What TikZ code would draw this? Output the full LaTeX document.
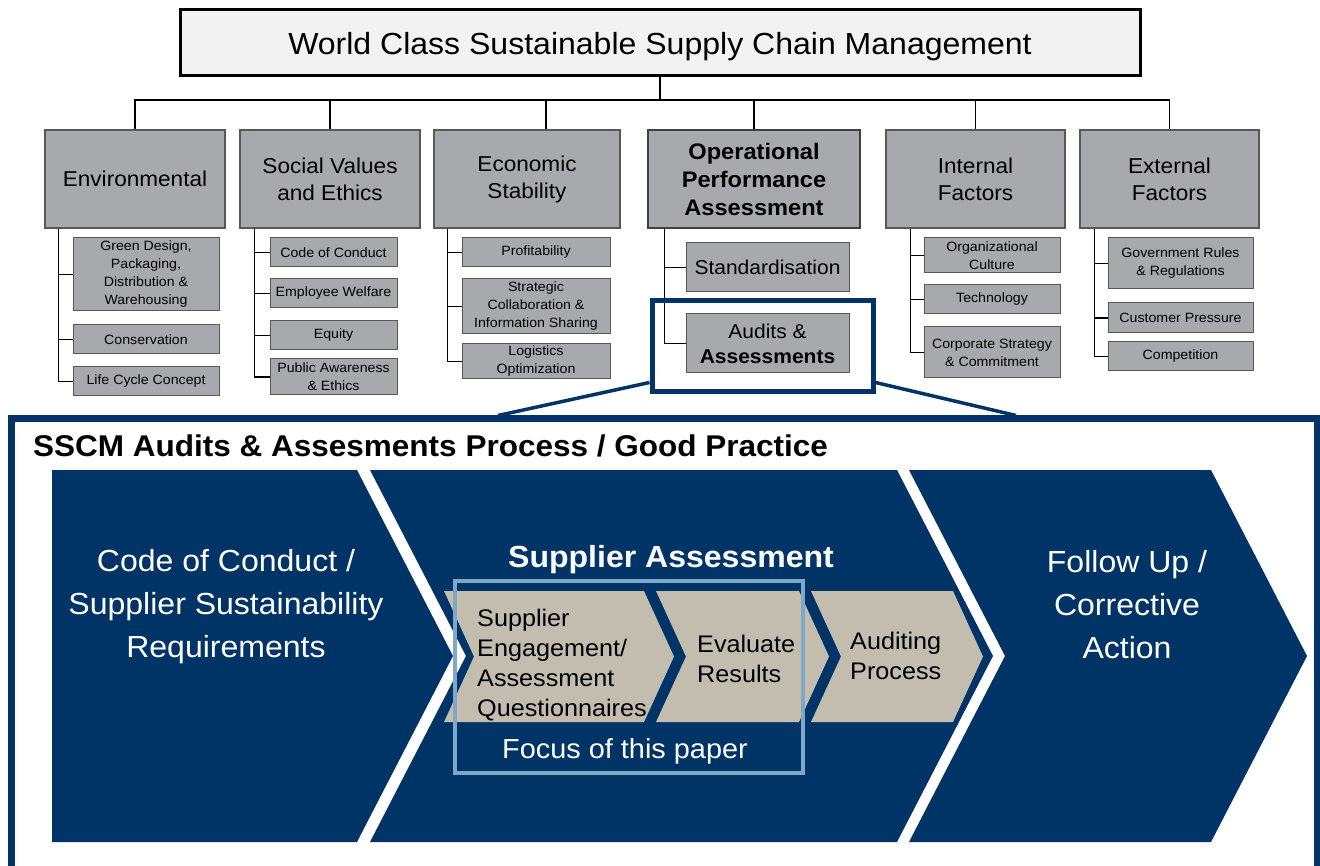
\documentclass[tikz,border=0pt]{standalone}
\usepackage{fontspec}
\setmainfont[FakeStretch=1.05]{Liberation Sans}
\usepackage{xcolor}
\usepackage{tikz}
\usetikzlibrary{positioning, calc}
\definecolor{navy}{RGB}{0,51,102}
\definecolor{boxgray}{RGB}{167,169,172}
\definecolor{edgegray}{RGB}{88,88,88}
\definecolor{topgray}{RGB}{242,242,242}
\definecolor{beige}{RGB}{195,189,175}
\definecolor{focusblue}{RGB}{125,168,200}
\newcommand{\fs}[2]{\fontsize{#1}{#2}\selectfont}

\begin{document}
\begin{tikzpicture}[x=1pt, y=-1pt]
  \tikzstyle{topbox} = [rectangle, draw=black, line width=3pt, fill=topgray, minimum width=960, minimum height=66, inner sep=0, text height=24, text depth=0, font=\fs{30.5}{36}]
  \tikzstyle{cat} = [rectangle, draw=edgegray, line width=1.2pt, fill=boxgray, minimum height=98, inner sep=0, align=center, font=\fs{21.5}{27}]
  \tikzstyle{catbold} = [cat, draw=black!75, line width=2.5pt, font=\fs{22.5}{28}\bfseries]
  \tikzstyle{sub} = [rectangle, draw=edgegray, line width=1pt, fill=boxgray, inner sep=0, align=center, font=\fs{13.5}{18}]
  \tikzstyle{subbig} = [sub, font=\fs{20}{25}]
  \tikzstyle{tree} = [line width=1.1pt, black]
  \tikzstyle{bigtxt} = [align=center, text=white, font=\fs{30.5}{43}]
  \tikzstyle{steptxt} = [align=left, anchor=west, inner sep=0, font=\fs{24}{30}]
  \useasboundingbox (0,0) rectangle (1320,866);
  \clip (0,0) rectangle (1320,866);

  % Top: main heading and six pillars
  \node [topbox] (title) at (660,43) {World Class Sustainable Supply Chain Management};
  \node [cat, minimum width=180] (env) at (135,179) {Environmental};
  \node [cat, minimum width=180] (soc) at (330,179) {Social Values\\and Ethics};
  \node [cat, minimum width=186] (eco) at (527,179) {Economic\\Stability};
  \node [catbold, minimum width=212] (ops) at (754,179) {Operational\\Performance\\Assessment};
  \node [cat, minimum width=179] (int) at (975.5,179) {Internal\\Factors};
  \node [cat, minimum width=179] (ext) at (1169.5,179) {External\\Factors};

  % Bus from heading to pillars
  \coordinate (bus) at (660,100);
  \draw [tree] (title.south) -- (title.south |- bus);
  \draw [tree] (env.north) -- (env.north |- bus) -- (ext.north |- bus) -- (ext.north);
  \draw [tree] ([xshift=19pt]eco.north) -- ([xshift=19pt]eco.north |- bus);
  \foreach \n in {soc, ops, int}
    \draw [tree] (\n.north) -- (\n.north |- bus);

  % Environmental
  \node [sub, minimum width=146, minimum height=73] (gd) at (146,274.5) {Green Design,\\Packaging,\\Distribution \&\\Warehousing};
  \node [sub, minimum width=146, minimum height=29] (cons) at (146,339.5) {Conservation};
  \node [sub, minimum width=146, minimum height=29] (lcc) at (146,381.5) {Life Cycle Concept};

  % Social values
  \node [sub, minimum width=127, minimum height=29] (coc) at (333.5,252.5) {Code of Conduct};
  \node [sub, minimum width=127, minimum height=29] (emp) at (333.5,293.5) {Employee Welfare};
  \node [sub, minimum width=127, minimum height=29] (equ) at (333.5,335.5) {Equity};
  \node [sub, minimum width=127, minimum height=36] (pub) at (333.5,377) {Public Awareness\\\& Ethics};

  % Economic
  \node [sub, minimum width=148, minimum height=29] (prof) at (536,252.5) {Profitability};
  \node [sub, minimum width=148, minimum height=55] (strat) at (536,306.5) {Strategic\\Collaboration \&\\Information Sharing};
  \node [sub, minimum width=148, minimum height=35] (logi) at (536,361.5) {Logistics\\Optimization};

  % Operational
  \node [subbig, minimum width=163, minimum height=49] (std) at (767.5,267.5) {Standardisation};
  \node [subbig, minimum width=163, minimum height=59] (aud) at (767.5,343.5) {Audits \&\\\textbf{Assessments}};

  % Internal
  \node [sub, minimum width=136, minimum height=35] (org) at (992,255.5) {Organizational\\Culture};
  \node [sub, minimum width=136, minimum height=29] (tech) at (992,299.5) {Technology};
  \node [sub, minimum width=136, minimum height=51] (corp) at (992,352.5) {Corporate Strategy\\\& Commitment};

  % External
  \node [sub, minimum width=145, minimum height=51] (gov) at (1180.5,263.5) {Government Rules\\\& Regulations};
  \node [sub, minimum width=145, minimum height=30] (cust) at (1180.5,318) {Customer Pressure};
  \node [sub, minimum width=145, minimum height=29] (comp) at (1180.5,356.5) {Competition};

  % Branches
  \draw [tree] ([xshift=14pt]env.south west) |- (gd.west);
  \draw [tree] ([xshift=14pt]env.south west) |- (cons.west);
  \draw [tree] ([xshift=14pt]env.south west) |- (lcc.west);
  \draw [tree] ([xshift=15pt]soc.south west) |- (coc.west);
  \draw [tree] ([xshift=15pt]soc.south west) |- (emp.west);
  \draw [tree] ([xshift=15pt]soc.south west) |- (equ.west);
  \draw [tree] ([xshift=15pt]soc.south west) |- (pub.west);
  \draw [tree] ([xshift=14pt]eco.south west) |- (prof.west);
  \draw [tree] ([xshift=14pt]eco.south west) |- (strat.west);
  \draw [tree] ([xshift=14pt]eco.south west) |- (logi.west);
  \draw [tree] ([xshift=18pt]ops.south west) |- (std.west);
  \draw [tree] ([xshift=18pt]ops.south west) |- (aud.west);
  \draw [tree] ([xshift=25pt]int.south west) |- (org.west);
  \draw [tree] ([xshift=25pt]int.south west) |- (tech.west);
  \draw [tree] ([xshift=25pt]int.south west) |- (corp.west);
  \draw [tree] ([xshift=15pt]ext.south west) |- (gov.west);
  \draw [tree] ([xshift=15pt]ext.south west) |- (cust.west);
  \draw [tree] ([xshift=15pt]ext.south west) |- (comp.west);

  % Zoom: highlight and frame
  \node [rectangle, draw=navy, line width=5pt, minimum width=221, minimum height=91, inner sep=0] (hl) at (762.5,346.5) {};
  \node [rectangle, draw=navy, line width=7pt, minimum width=1305.5, minimum height=451, inner sep=0] (frame) at (664.25,644.5) {};
  \draw [navy, line width=3.5pt] ([yshift=12pt]hl.south west) -- ([xshift=490pt]frame.north west);
  \draw [navy, line width=3.5pt] ([yshift=12pt]hl.south east) -- ([xshift=1008pt]frame.north west);
  \node [anchor=base west, inner sep=0, font=\fs{30}{35}\bfseries] (head) at (33,456) {SSCM Audits \& Assesments Process / Good Practice};

  % Process chevrons
  \fill [navy] (52,470) -- (357,470) -- (453,656) -- (357,842) -- (52,842) -- cycle;
  \fill [navy] (370,470) -- (897,470) -- (993,656) -- (897,842) -- (370,842) -- (466,656) -- cycle;
  \fill [navy] (909,470) -- (1211,470) -- (1307,656) -- (1211,842) -- (909,842) -- (1005,656) -- cycle;
  \fill [beige] (444,591) -- (644,591) -- (674,656.5) -- (644,722) -- (444,722) -- (474,656.5) -- cycle;
  \fill [beige] (656,591) -- (799,591) -- (829,656.5) -- (799,722) -- (656,722) -- (686,656.5) -- cycle;
  \fill [beige] (811,591) -- (953,591) -- (983,656.5) -- (953,722) -- (811,722) -- (841,656.5) -- cycle;

  \node [bigtxt] (req) at (226,607) {Code of Conduct /\\Supplier Sustainability\\Requirements};
  \node [bigtxt, font=\fs{30.5}{43}\bfseries, anchor=base] (sa) at (671,567) {Supplier Assessment};
  \node [bigtxt] (fu) at (1127,605) {Follow Up /\\Corrective\\Action};
  \node [steptxt] (eng) at (477,665) {Supplier\\Engagement/\\Assessment\\Questionnaires};
  \node [steptxt] (eval) at (697,659) {Evaluate\\Results};
  \node [steptxt] (audp) at (850,656) {Auditing\\Process};

  % Focus box
  \node [rectangle, draw=focusblue, line width=4pt, minimum width=348, minimum height=192, inner sep=0] (focus) at (629,677) {};
  \node [anchor=base, text=white, font=\fs{27.5}{32}] (fop) at (625,758) {Focus of this paper};
\end{tikzpicture}
\end{document}
